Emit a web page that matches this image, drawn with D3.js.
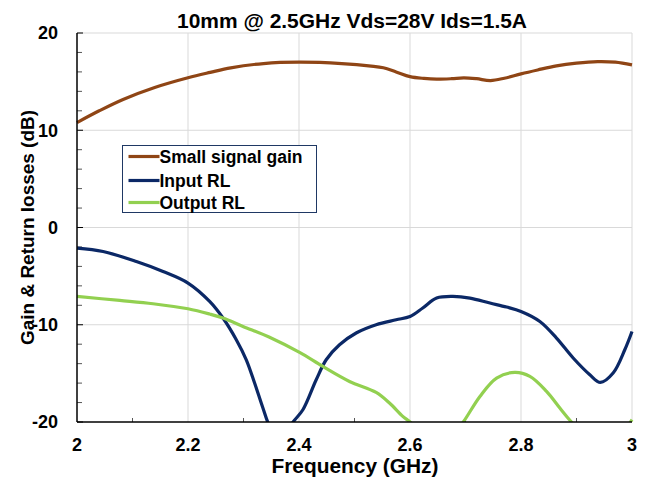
<!DOCTYPE html>
<html>
<head>
<meta charset="utf-8">
<script src="https://cdn.jsdelivr.net/npm/d3@7"></script>
<style>
  body { margin: 0; background: #fff; }
  text { font-family: "Liberation Sans", Arial, sans-serif; font-weight: bold; }
</style>
</head>
<body>
<div id="chart"></div>
<script>
const width = 647;
const height = 479;

// values
const gainFreq = [2.0, 2.04, 2.083, 2.14, 2.2, 2.24, 2.277, 2.336, 2.4, 2.477, 2.53, 2.552, 2.575, 2.6, 2.625, 2.648, 2.675, 2.697, 2.72, 2.745, 2.77, 2.8, 2.83, 2.864, 2.9, 2.938, 2.97, 3.0];
const gainVals = [10.79, 12.0, 13.17, 14.4, 15.4, 15.95, 16.42, 16.86, 17.0, 16.86, 16.6, 16.42, 16.0, 15.52, 15.33, 15.25, 15.3, 15.39, 15.3, 15.11, 15.35, 15.8, 16.2, 16.62, 16.9, 17.06, 17.0, 16.72];

const inFreq = [2.0, 2.047, 2.107, 2.155, 2.2, 2.239, 2.263, 2.287, 2.305, 2.32, 2.335, 2.346, 2.36, 2.368, 2.378, 2.388, 2.407, 2.431, 2.449, 2.473, 2.503, 2.539, 2.575, 2.6, 2.623, 2.648, 2.677, 2.708, 2.744, 2.774, 2.8, 2.834, 2.864, 2.894, 2.924, 2.943, 2.966, 2.987, 3.0];
const inVals = [-2.12, -2.47, -3.5, -4.52, -5.71, -7.6, -9.31, -11.54, -13.6, -15.99, -18.56, -20.3, -21.4, -21.6, -21.1, -20.1, -18.74, -15.65, -13.6, -12.06, -10.85, -10.0, -9.49, -9.15, -8.28, -7.26, -7.09, -7.26, -7.77, -8.18, -8.63, -9.66, -11.37, -13.42, -15.14, -15.93, -14.96, -12.57, -10.69];

const outFreq = [2.0, 2.077, 2.137, 2.2, 2.239, 2.263, 2.299, 2.346, 2.401, 2.443, 2.491, 2.539, 2.563, 2.587, 2.602, 2.625, 2.65, 2.675, 2.696, 2.726, 2.756, 2.789, 2.816, 2.846, 2.87, 2.891, 2.92, 2.95, 2.98, 3.0];
const outVals = [-7.09, -7.5, -7.84, -8.36, -8.9, -9.31, -10.17, -11.26, -12.85, -14.29, -15.83, -16.96, -18.05, -19.42, -20.1, -21.6, -22.2, -21.5, -20.0, -17.37, -15.48, -14.9, -15.31, -16.85, -18.56, -20.0, -21.6, -22.2, -21.2, -19.76];

const seriesNames = ["Small signal gain", "Input RL", "Output RL"];
const seriesColors = ["#8f4515", "#0b2866", "#92d050"];

const xTicks = [2, 2.2, 2.4, 2.6, 2.8, 3];
const yTicks = [-20, -10, 0, 10, 20];

const title = "10mm @ 2.5GHz Vds=28V Ids=1.5A";

const margin = { top: 33, right: 15, bottom: 57, left: 77 };

const svg = d3.select("#chart")
  .append("svg")
  .attr("width", width)
  .attr("height", height);

const x = d3.scaleLinear().domain([2, 3]).range([margin.left, width - margin.right]);
const y = d3.scaleLinear().domain([-20, 20]).range([height - margin.bottom, margin.top]);

// gridlines
svg.append("g")
  .selectAll("line")
  .data(xTicks.slice(1))
  .enter()
  .append("line")
  .attr("x1", d => x(d)).attr("x2", d => x(d))
  .attr("y1", y(-20)).attr("y2", y(20))
  .attr("stroke", "#d9d9d9").attr("stroke-width", 1);

svg.append("g")
  .selectAll("line")
  .data(yTicks.slice(1))
  .enter()
  .append("line")
  .attr("x1", x(2)).attr("x2", x(3))
  .attr("y1", d => y(d)).attr("y2", d => y(d))
  .attr("stroke", "#d9d9d9").attr("stroke-width", 1);

// minor ticks (inside)
svg.append("g")
  .selectAll("line")
  .data(d3.range(-18, 20, 2).filter(d => d % 10 !== 0))
  .enter()
  .append("line")
  .attr("x1", x(2)).attr("x2", x(2) + 5)
  .attr("y1", d => y(d)).attr("y2", d => y(d))
  .attr("stroke", "#555").attr("stroke-width", 1);

svg.append("g")
  .selectAll("line")
  .data(d3.range(2.1, 3, 0.2))
  .enter()
  .append("line")
  .attr("x1", d => x(d)).attr("x2", d => x(d))
  .attr("y1", y(-20)).attr("y2", y(-20) - 4)
  .attr("stroke", "#555").attr("stroke-width", 1);

svg.append("g")
  .selectAll("line")
  .data(yTicks)
  .enter()
  .append("line")
  .attr("x1", x(2)).attr("x2", x(2) + 6)
  .attr("y1", d => y(d)).attr("y2", d => y(d))
  .attr("stroke", "#000").attr("stroke-width", 1);

// clip for the curves
svg.append("clipPath")
  .attr("id", "plot-clip")
  .append("rect")
  .attr("x", x(2) - 2).attr("y", y(20))
  .attr("width", x(3) - x(2) + 4).attr("height", y(-20) - y(20));

const line = d3.line()
  .x(d => x(d[0]))
  .y(d => y(d[1]))
  .curve(d3.curveCatmullRom.alpha(0.5));

const series = [
  d3.zip(gainFreq, gainVals),
  d3.zip(inFreq, inVals),
  d3.zip(outFreq, outVals),
];

svg.append("g")
  .attr("clip-path", "url(#plot-clip)")
  .selectAll("path")
  .data(series)
  .enter()
  .append("path")
  .attr("d", line)
  .attr("fill", "none")
  .attr("stroke", (d, i) => seriesColors[i])
  .attr("stroke-width", 3.2)
  .attr("stroke-linejoin", "round");

// axis lines
svg.append("line")
  .attr("x1", x(2)).attr("x2", x(2))
  .attr("y1", y(20)).attr("y2", y(-20))
  .attr("stroke", "#000").attr("stroke-width", 1.5);
svg.append("line")
  .attr("x1", x(2)).attr("x2", x(3))
  .attr("y1", y(-20)).attr("y2", y(-20))
  .attr("stroke", "#000").attr("stroke-width", 1.5);

// tick labels
svg.append("g")
  .selectAll("text")
  .data(yTicks)
  .enter()
  .append("text")
  .attr("x", x(2) - 19)
  .attr("y", d => y(d))
  .attr("dy", "0.36em")
  .attr("text-anchor", "end")
  .attr("font-size", 18)
  .text(d => d);

svg.append("g")
  .selectAll("text")
  .data(xTicks)
  .enter()
  .append("text")
  .attr("x", d => x(d))
  .attr("y", 451)
  .attr("text-anchor", "middle")
  .attr("font-size", 18)
  .text(d => d);

// titles
svg.append("text")
  .attr("x", 352)
  .attr("y", 28)
  .attr("text-anchor", "middle")
  .attr("font-size", 20)
  .attr("textLength", 350)
  .attr("lengthAdjust", "spacingAndGlyphs")
  .text(title);

svg.append("text")
  .attr("x", 355)
  .attr("y", 473)
  .attr("text-anchor", "middle")
  .attr("font-size", 20)
  .attr("textLength", 167)
  .attr("lengthAdjust", "spacingAndGlyphs")
  .text("Frequency (GHz)");

svg.append("text")
  .attr("transform", "translate(34, 227.5) rotate(-90)")
  .attr("text-anchor", "middle")
  .attr("font-size", 18)
  .attr("textLength", 235)
  .attr("lengthAdjust", "spacingAndGlyphs")
  .text("Gain & Return losses (dB)");

// legend
const legend = svg.append("g").attr("transform", "translate(122.5, 145.5)");
legend.append("rect")
  .attr("width", 194).attr("height", 67)
  .attr("fill", "#fff")
  .attr("stroke", "#1f3864").attr("stroke-width", 1);

const rows = [11, 35, 57];
const item = legend.selectAll(".item")
  .data(seriesNames)
  .enter()
  .append("g")
  .attr("transform", (d, i) => `translate(0, ${rows[i]})`);
item.append("line")
  .attr("x1", 6).attr("x2", 37)
  .attr("stroke", (d, i) => seriesColors[i])
  .attr("stroke-width", 3.2);
item.append("text")
  .attr("x", 37)
  .attr("dy", "0.36em")
  .attr("font-size", 17.5)
  .text(d => d);
</script>
</body>
</html>
